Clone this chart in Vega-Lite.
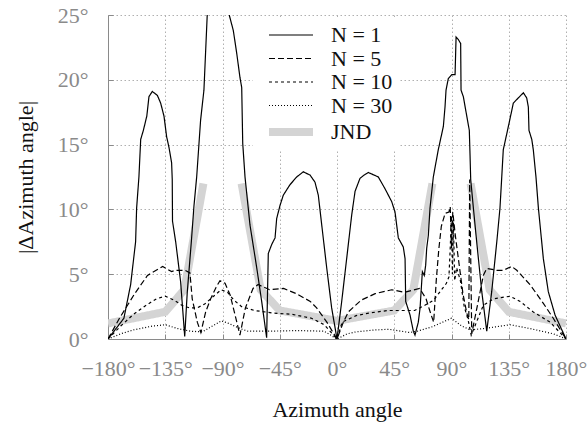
{
  "$schema": "https://vega.github.io/schema/vega-lite/v6.json",
  "width": 458,
  "height": 324,
  "autosize": "none",
  "padding": {"left": 108, "top": 15, "right": 22, "bottom": 87},
  "background": "white",
  "config": {
    "font": "Liberation Serif",
    "view": {"stroke": null},
    "axis": {
      "labelFont": "Liberation Serif",
      "labelFontSize": 22,
      "labelColor": "#8a8a8a",
      "titleFont": "Liberation Serif",
      "titleFontSize": 22,
      "titleFontWeight": "normal",
      "titleColor": "#111111",
      "domainColor": "#8a8a8a",
      "tickColor": "#8a8a8a",
      "gridColor": "#b0b0b0",
      "gridDash": [1.5, 2.5],
      "gridWidth": 1
    }
  },
  "datasets": {
    "curves": [
      {"s": "JND", "g": "a", "x": -180, "y": 1.2},
      {"s": "JND", "g": "a", "x": -135, "y": 2.1},
      {"s": "JND", "g": "a", "x": -120, "y": 3.8},
      {"s": "JND", "g": "a", "x": -105, "y": 12},
      {"s": "JND", "g": "b", "x": -75, "y": 12},
      {"s": "JND", "g": "b", "x": -60, "y": 3.8},
      {"s": "JND", "g": "b", "x": -45, "y": 2.2},
      {"s": "JND", "g": "b", "x": 0, "y": 1.4},
      {"s": "JND", "g": "b", "x": 45, "y": 2.2},
      {"s": "JND", "g": "b", "x": 60, "y": 3.8},
      {"s": "JND", "g": "b", "x": 75, "y": 12},
      {"s": "JND", "g": "c", "x": 105, "y": 12},
      {"s": "JND", "g": "c", "x": 120, "y": 3.8},
      {"s": "JND", "g": "c", "x": 135, "y": 2.1},
      {"s": "JND", "g": "c", "x": 180, "y": 1.2},

      {"s": "N = 1", "g": "a", "x": -180, "y": 0},
      {"s": "N = 1", "g": "a", "x": -167.5, "y": 1.6},
      {"s": "N = 1", "g": "a", "x": -162.2, "y": 4.2},
      {"s": "N = 1", "g": "a", "x": -158.3, "y": 7.5},
      {"s": "N = 1", "g": "a", "x": -157.5, "y": 10.1},
      {"s": "N = 1", "g": "a", "x": -155.7, "y": 12.5},
      {"s": "N = 1", "g": "a", "x": -154.3, "y": 15.4},
      {"s": "N = 1", "g": "a", "x": -152.2, "y": 16.1},
      {"s": "N = 1", "g": "a", "x": -149.5, "y": 17.2},
      {"s": "N = 1", "g": "a", "x": -147.8, "y": 18.7},
      {"s": "N = 1", "g": "a", "x": -145.2, "y": 19.1},
      {"s": "N = 1", "g": "a", "x": -141.2, "y": 18.8},
      {"s": "N = 1", "g": "a", "x": -138.6, "y": 18.2},
      {"s": "N = 1", "g": "a", "x": -136, "y": 17.2},
      {"s": "N = 1", "g": "a", "x": -133.9, "y": 15.6},
      {"s": "N = 1", "g": "a", "x": -132.1, "y": 14.8},
      {"s": "N = 1", "g": "a", "x": -130, "y": 13.6},
      {"s": "N = 1", "g": "a", "x": -129.5, "y": 12.3},
      {"s": "N = 1", "g": "a", "x": -129.3, "y": 9.1},
      {"s": "N = 1", "g": "a", "x": -126.8, "y": 7.5},
      {"s": "N = 1", "g": "a", "x": -122.9, "y": 4.4},
      {"s": "N = 1", "g": "a", "x": -119.7, "y": 0.2},
      {"s": "N = 1", "g": "a", "x": -117.7, "y": 3.6},
      {"s": "N = 1", "g": "a", "x": -114.5, "y": 7.5},
      {"s": "N = 1", "g": "a", "x": -112.4, "y": 10.3},
      {"s": "N = 1", "g": "a", "x": -110.3, "y": 12.5},
      {"s": "N = 1", "g": "a", "x": -107.2, "y": 16.9},
      {"s": "N = 1", "g": "a", "x": -104.6, "y": 19.2},
      {"s": "N = 1", "g": "a", "x": -102, "y": 25},
      {"s": "N = 1", "g": "a", "x": -99, "y": 30},
      {"s": "N = 1", "g": "a", "x": -88, "y": 30},
      {"s": "N = 1", "g": "a", "x": -84.7, "y": 25},
      {"s": "N = 1", "g": "a", "x": -81.5, "y": 23.8},
      {"s": "N = 1", "g": "a", "x": -78.9, "y": 22.1},
      {"s": "N = 1", "g": "a", "x": -76.3, "y": 20.2},
      {"s": "N = 1", "g": "a", "x": -74.9, "y": 19.4},
      {"s": "N = 1", "g": "a", "x": -74.1, "y": 15.1},
      {"s": "N = 1", "g": "a", "x": -72.3, "y": 12.5},
      {"s": "N = 1", "g": "a", "x": -68.4, "y": 8.8},
      {"s": "N = 1", "g": "a", "x": -63.1, "y": 5.5},
      {"s": "N = 1", "g": "a", "x": -59.2, "y": 2.9},
      {"s": "N = 1", "g": "a", "x": -55.3, "y": 0.1},
      {"s": "N = 1", "g": "a", "x": -54, "y": 6.6},
      {"s": "N = 1", "g": "a", "x": -51.3, "y": 7.3},
      {"s": "N = 1", "g": "a", "x": -48.7, "y": 7.8},
      {"s": "N = 1", "g": "a", "x": -47.4, "y": 9.3},
      {"s": "N = 1", "g": "a", "x": -44.8, "y": 10.3},
      {"s": "N = 1", "g": "a", "x": -42.2, "y": 11.1},
      {"s": "N = 1", "g": "a", "x": -37, "y": 11.9},
      {"s": "N = 1", "g": "a", "x": -31.7, "y": 12.5},
      {"s": "N = 1", "g": "a", "x": -26.5, "y": 12.9},
      {"s": "N = 1", "g": "a", "x": -21.2, "y": 12.65},
      {"s": "N = 1", "g": "a", "x": -17.3, "y": 12.1},
      {"s": "N = 1", "g": "a", "x": -14.7, "y": 11.1},
      {"s": "N = 1", "g": "a", "x": -12, "y": 8.8},
      {"s": "N = 1", "g": "a", "x": -8.1, "y": 5.5},
      {"s": "N = 1", "g": "a", "x": -4.2, "y": 2.4},
      {"s": "N = 1", "g": "a", "x": 0, "y": 0},
      {"s": "N = 1", "g": "a", "x": 3.7, "y": 2.9},
      {"s": "N = 1", "g": "a", "x": 7.6, "y": 6.2},
      {"s": "N = 1", "g": "a", "x": 11.6, "y": 9.6},
      {"s": "N = 1", "g": "a", "x": 14.2, "y": 11.4},
      {"s": "N = 1", "g": "a", "x": 18.1, "y": 12.4},
      {"s": "N = 1", "g": "a", "x": 22, "y": 12.7},
      {"s": "N = 1", "g": "a", "x": 24.6, "y": 12.85},
      {"s": "N = 1", "g": "a", "x": 32.5, "y": 12.5},
      {"s": "N = 1", "g": "a", "x": 37.7, "y": 11.6},
      {"s": "N = 1", "g": "a", "x": 43, "y": 10.6},
      {"s": "N = 1", "g": "a", "x": 45.6, "y": 9.8},
      {"s": "N = 1", "g": "a", "x": 48.2, "y": 7.8},
      {"s": "N = 1", "g": "a", "x": 52.1, "y": 7.1},
      {"s": "N = 1", "g": "a", "x": 53.5, "y": 6.2},
      {"s": "N = 1", "g": "a", "x": 54, "y": 2.9},
      {"s": "N = 1", "g": "a", "x": 57.4, "y": 1.85},
      {"s": "N = 1", "g": "a", "x": 60, "y": 0.6},
      {"s": "N = 1", "g": "a", "x": 61.3, "y": 0.3},
      {"s": "N = 1", "g": "a", "x": 63.9, "y": 1.3},
      {"s": "N = 1", "g": "a", "x": 65.3, "y": 2.4},
      {"s": "N = 1", "g": "a", "x": 67.1, "y": 5.2},
      {"s": "N = 1", "g": "a", "x": 68.6, "y": 4.9},
      {"s": "N = 1", "g": "a", "x": 69.7, "y": 5.7},
      {"s": "N = 1", "g": "a", "x": 70.5, "y": 7},
      {"s": "N = 1", "g": "a", "x": 71.8, "y": 8},
      {"s": "N = 1", "g": "a", "x": 73.1, "y": 10.1},
      {"s": "N = 1", "g": "a", "x": 75.7, "y": 12.5},
      {"s": "N = 1", "g": "a", "x": 79.6, "y": 14.6},
      {"s": "N = 1", "g": "a", "x": 83.6, "y": 16.4},
      {"s": "N = 1", "g": "a", "x": 84.9, "y": 17.9},
      {"s": "N = 1", "g": "a", "x": 85.7, "y": 19.2},
      {"s": "N = 1", "g": "a", "x": 87.5, "y": 20.1},
      {"s": "N = 1", "g": "a", "x": 90.2, "y": 20.4},
      {"s": "N = 1", "g": "a", "x": 92.8, "y": 20.4},
      {"s": "N = 1", "g": "a", "x": 93.6, "y": 23.3},
      {"s": "N = 1", "g": "a", "x": 95.4, "y": 23.1},
      {"s": "N = 1", "g": "a", "x": 97.2, "y": 22.8},
      {"s": "N = 1", "g": "a", "x": 97.5, "y": 19.2},
      {"s": "N = 1", "g": "a", "x": 99.3, "y": 18.7},
      {"s": "N = 1", "g": "a", "x": 102, "y": 17.2},
      {"s": "N = 1", "g": "a", "x": 104, "y": 16.1},
      {"s": "N = 1", "g": "a", "x": 104.6, "y": 14.1},
      {"s": "N = 1", "g": "a", "x": 105.1, "y": 12.3},
      {"s": "N = 1", "g": "a", "x": 107.2, "y": 10.1},
      {"s": "N = 1", "g": "a", "x": 109.8, "y": 7.5},
      {"s": "N = 1", "g": "a", "x": 113.8, "y": 3.65},
      {"s": "N = 1", "g": "a", "x": 117.7, "y": 0.6},
      {"s": "N = 1", "g": "a", "x": 121.6, "y": 3.65},
      {"s": "N = 1", "g": "a", "x": 125.6, "y": 7.5},
      {"s": "N = 1", "g": "a", "x": 128.1, "y": 10.1},
      {"s": "N = 1", "g": "a", "x": 129.5, "y": 12.5},
      {"s": "N = 1", "g": "a", "x": 130.7, "y": 14.6},
      {"s": "N = 1", "g": "a", "x": 134.7, "y": 16.4},
      {"s": "N = 1", "g": "a", "x": 138.6, "y": 18.2},
      {"s": "N = 1", "g": "a", "x": 142.5, "y": 18.6},
      {"s": "N = 1", "g": "a", "x": 146.5, "y": 19.0},
      {"s": "N = 1", "g": "a", "x": 149.1, "y": 18.6},
      {"s": "N = 1", "g": "a", "x": 150.4, "y": 17.9},
      {"s": "N = 1", "g": "a", "x": 150.9, "y": 16.1},
      {"s": "N = 1", "g": "a", "x": 153.1, "y": 15.4},
      {"s": "N = 1", "g": "a", "x": 154.3, "y": 14.6},
      {"s": "N = 1", "g": "a", "x": 156.4, "y": 12.5},
      {"s": "N = 1", "g": "a", "x": 158.3, "y": 10.1},
      {"s": "N = 1", "g": "a", "x": 162.2, "y": 6.2},
      {"s": "N = 1", "g": "a", "x": 166.1, "y": 3.65},
      {"s": "N = 1", "g": "a", "x": 171.4, "y": 1.85},
      {"s": "N = 1", "g": "a", "x": 180, "y": 0},

      {"s": "N = 5", "g": "a", "x": -180, "y": 0},
      {"s": "N = 5", "g": "a", "x": -171, "y": 1.6},
      {"s": "N = 5", "g": "a", "x": -159, "y": 3.5},
      {"s": "N = 5", "g": "a", "x": -149, "y": 4.9},
      {"s": "N = 5", "g": "a", "x": -137, "y": 5.6},
      {"s": "N = 5", "g": "a", "x": -130, "y": 5.2},
      {"s": "N = 5", "g": "a", "x": -127, "y": 5.3},
      {"s": "N = 5", "g": "a", "x": -119.5, "y": 5.3},
      {"s": "N = 5", "g": "a", "x": -115.6, "y": 5.1},
      {"s": "N = 5", "g": "a", "x": -113.8, "y": 3.1},
      {"s": "N = 5", "g": "a", "x": -109.8, "y": 1.3},
      {"s": "N = 5", "g": "a", "x": -107, "y": 0.5},
      {"s": "N = 5", "g": "a", "x": -103.2, "y": 2.1},
      {"s": "N = 5", "g": "a", "x": -99.3, "y": 3.1},
      {"s": "N = 5", "g": "a", "x": -95, "y": 4.0},
      {"s": "N = 5", "g": "a", "x": -92, "y": 4.5},
      {"s": "N = 5", "g": "a", "x": -88, "y": 4.3},
      {"s": "N = 5", "g": "a", "x": -84, "y": 3.4},
      {"s": "N = 5", "g": "a", "x": -80, "y": 1.8},
      {"s": "N = 5", "g": "a", "x": -76.3, "y": 0.3},
      {"s": "N = 5", "g": "a", "x": -72, "y": 2.4},
      {"s": "N = 5", "g": "a", "x": -66, "y": 3.9},
      {"s": "N = 5", "g": "a", "x": -62, "y": 4.2},
      {"s": "N = 5", "g": "a", "x": -53, "y": 3.8},
      {"s": "N = 5", "g": "a", "x": -42, "y": 3.9},
      {"s": "N = 5", "g": "a", "x": -32, "y": 3.5},
      {"s": "N = 5", "g": "a", "x": -21, "y": 2.9},
      {"s": "N = 5", "g": "a", "x": -16, "y": 2.4},
      {"s": "N = 5", "g": "a", "x": -8, "y": 1.3},
      {"s": "N = 5", "g": "a", "x": 0, "y": 0},
      {"s": "N = 5", "g": "a", "x": 5, "y": 1.3},
      {"s": "N = 5", "g": "a", "x": 9, "y": 2.1},
      {"s": "N = 5", "g": "a", "x": 19, "y": 3.0},
      {"s": "N = 5", "g": "a", "x": 30, "y": 3.5},
      {"s": "N = 5", "g": "a", "x": 43, "y": 3.8},
      {"s": "N = 5", "g": "a", "x": 53, "y": 3.6},
      {"s": "N = 5", "g": "a", "x": 65, "y": 3.9},
      {"s": "N = 5", "g": "a", "x": 70, "y": 3.1},
      {"s": "N = 5", "g": "a", "x": 74, "y": 1.85},
      {"s": "N = 5", "g": "a", "x": 76, "y": 1.3},
      {"s": "N = 5", "g": "a", "x": 78, "y": 4.5},
      {"s": "N = 5", "g": "a", "x": 80, "y": 6.9},
      {"s": "N = 5", "g": "a", "x": 82, "y": 8.7},
      {"s": "N = 5", "g": "a", "x": 85, "y": 9.7},
      {"s": "N = 5", "g": "a", "x": 88, "y": 9.8},
      {"s": "N = 5", "g": "a", "x": 89, "y": 10.2},
      {"s": "N = 5", "g": "a", "x": 90, "y": 7.0},
      {"s": "N = 5", "g": "a", "x": 91, "y": 9.8},
      {"s": "N = 5", "g": "a", "x": 93, "y": 8.0},
      {"s": "N = 5", "g": "a", "x": 95, "y": 6.5},
      {"s": "N = 5", "g": "a", "x": 97, "y": 5.0},
      {"s": "N = 5", "g": "a", "x": 99, "y": 3.5},
      {"s": "N = 5", "g": "a", "x": 102, "y": 2.0},
      {"s": "N = 5", "g": "a", "x": 103.6, "y": 1.5},
      {"s": "N = 5", "g": "a", "x": 104.3, "y": 12.3},
      {"s": "N = 5", "g": "a", "x": 105.9, "y": 0.4},
      {"s": "N = 5", "g": "a", "x": 111, "y": 2.9},
      {"s": "N = 5", "g": "a", "x": 115, "y": 4.9},
      {"s": "N = 5", "g": "a", "x": 117.7, "y": 5.45},
      {"s": "N = 5", "g": "a", "x": 125.6, "y": 5.3},
      {"s": "N = 5", "g": "a", "x": 130.7, "y": 5.3},
      {"s": "N = 5", "g": "a", "x": 137.3, "y": 5.6},
      {"s": "N = 5", "g": "a", "x": 141.3, "y": 5.3},
      {"s": "N = 5", "g": "a", "x": 151.7, "y": 4.2},
      {"s": "N = 5", "g": "a", "x": 162.2, "y": 2.75},
      {"s": "N = 5", "g": "a", "x": 170, "y": 1.6},
      {"s": "N = 5", "g": "a", "x": 180, "y": 0},

      {"s": "N = 10", "g": "a", "x": -180, "y": 0},
      {"s": "N = 10", "g": "a", "x": -170, "y": 1.0},
      {"s": "N = 10", "g": "a", "x": -160, "y": 1.9},
      {"s": "N = 10", "g": "a", "x": -150, "y": 2.6},
      {"s": "N = 10", "g": "a", "x": -142, "y": 3.1},
      {"s": "N = 10", "g": "a", "x": -135, "y": 3.3},
      {"s": "N = 10", "g": "a", "x": -128, "y": 3.0},
      {"s": "N = 10", "g": "a", "x": -122, "y": 2.6},
      {"s": "N = 10", "g": "a", "x": -116, "y": 2.4},
      {"s": "N = 10", "g": "a", "x": -110, "y": 2.4},
      {"s": "N = 10", "g": "a", "x": -104, "y": 2.7},
      {"s": "N = 10", "g": "a", "x": -97, "y": 3.3},
      {"s": "N = 10", "g": "a", "x": -91, "y": 3.8},
      {"s": "N = 10", "g": "a", "x": -86, "y": 3.6},
      {"s": "N = 10", "g": "a", "x": -81, "y": 3.0},
      {"s": "N = 10", "g": "a", "x": -75, "y": 2.5},
      {"s": "N = 10", "g": "a", "x": -65, "y": 2.2},
      {"s": "N = 10", "g": "a", "x": -50, "y": 2.0},
      {"s": "N = 10", "g": "a", "x": -35, "y": 1.9},
      {"s": "N = 10", "g": "a", "x": -20, "y": 1.6},
      {"s": "N = 10", "g": "a", "x": -10, "y": 1.1},
      {"s": "N = 10", "g": "a", "x": 0, "y": 0},
      {"s": "N = 10", "g": "a", "x": 4, "y": 1.3},
      {"s": "N = 10", "g": "a", "x": 15, "y": 1.8},
      {"s": "N = 10", "g": "a", "x": 25, "y": 2.0},
      {"s": "N = 10", "g": "a", "x": 40, "y": 2.2},
      {"s": "N = 10", "g": "a", "x": 61, "y": 2.2},
      {"s": "N = 10", "g": "a", "x": 69, "y": 2.6},
      {"s": "N = 10", "g": "a", "x": 76, "y": 3.0},
      {"s": "N = 10", "g": "a", "x": 86, "y": 4.3},
      {"s": "N = 10", "g": "a", "x": 88, "y": 4.8},
      {"s": "N = 10", "g": "a", "x": 89, "y": 7.0},
      {"s": "N = 10", "g": "a", "x": 90, "y": 9.5},
      {"s": "N = 10", "g": "a", "x": 90.7, "y": 5.0},
      {"s": "N = 10", "g": "a", "x": 91.5, "y": 9.0},
      {"s": "N = 10", "g": "a", "x": 92.5, "y": 4.5},
      {"s": "N = 10", "g": "a", "x": 94, "y": 5.5},
      {"s": "N = 10", "g": "a", "x": 97, "y": 4.5},
      {"s": "N = 10", "g": "a", "x": 100, "y": 2.5},
      {"s": "N = 10", "g": "a", "x": 103, "y": 1.5},
      {"s": "N = 10", "g": "a", "x": 105.5, "y": 0.3},
      {"s": "N = 10", "g": "a", "x": 115, "y": 2.6},
      {"s": "N = 10", "g": "a", "x": 123, "y": 3.1},
      {"s": "N = 10", "g": "a", "x": 136, "y": 3.3},
      {"s": "N = 10", "g": "a", "x": 144, "y": 2.9},
      {"s": "N = 10", "g": "a", "x": 154, "y": 2.1},
      {"s": "N = 10", "g": "a", "x": 167.5, "y": 1.3},
      {"s": "N = 10", "g": "a", "x": 180, "y": 0},

      {"s": "N = 30", "g": "a", "x": -180, "y": 0},
      {"s": "N = 30", "g": "a", "x": -170, "y": 0.4},
      {"s": "N = 30", "g": "a", "x": -160, "y": 0.7},
      {"s": "N = 30", "g": "a", "x": -145, "y": 1.0},
      {"s": "N = 30", "g": "a", "x": -135, "y": 1.1},
      {"s": "N = 30", "g": "a", "x": -125, "y": 0.8},
      {"s": "N = 30", "g": "a", "x": -115, "y": 0.6},
      {"s": "N = 30", "g": "a", "x": -106, "y": 0.55},
      {"s": "N = 30", "g": "a", "x": -98, "y": 1.0},
      {"s": "N = 30", "g": "a", "x": -91, "y": 1.4},
      {"s": "N = 30", "g": "a", "x": -85, "y": 1.2},
      {"s": "N = 30", "g": "a", "x": -76, "y": 0.8},
      {"s": "N = 30", "g": "a", "x": -70, "y": 0.6},
      {"s": "N = 30", "g": "a", "x": -55, "y": 0.6},
      {"s": "N = 30", "g": "a", "x": -30, "y": 0.65},
      {"s": "N = 30", "g": "a", "x": -10, "y": 0.6},
      {"s": "N = 30", "g": "a", "x": -5, "y": 0.3},
      {"s": "N = 30", "g": "a", "x": 0, "y": 0},
      {"s": "N = 30", "g": "a", "x": 8, "y": 0.4},
      {"s": "N = 30", "g": "a", "x": 15, "y": 0.55},
      {"s": "N = 30", "g": "a", "x": 30, "y": 0.7},
      {"s": "N = 30", "g": "a", "x": 41, "y": 0.75},
      {"s": "N = 30", "g": "a", "x": 57, "y": 0.5},
      {"s": "N = 30", "g": "a", "x": 63, "y": 0.6},
      {"s": "N = 30", "g": "a", "x": 75, "y": 0.95},
      {"s": "N = 30", "g": "a", "x": 90, "y": 1.6},
      {"s": "N = 30", "g": "a", "x": 98, "y": 1.0},
      {"s": "N = 30", "g": "a", "x": 105, "y": 0.7},
      {"s": "N = 30", "g": "a", "x": 115, "y": 0.8},
      {"s": "N = 30", "g": "a", "x": 136, "y": 1.1},
      {"s": "N = 30", "g": "a", "x": 152, "y": 0.8},
      {"s": "N = 30", "g": "a", "x": 170, "y": 0.4},
      {"s": "N = 30", "g": "a", "x": 180, "y": 0}
    ]
  },
  "data": {"name": "curves"},
  "encoding": {
    "x": {
      "field": "x",
      "type": "quantitative",
      "title": "Azimuth angle",
      "scale": {"domain": [-180, 180], "nice": false, "zero": false},
      "axis": {
        "values": [-180, -135, -90, -45, 0, 45, 90, 135, 180],
        "format": "d",
        "labelExpr": "datum.label + '°'",
        "labelPadding": 24,
        "tickSize": -5,
        "titlePadding": 20,
        "labelFlush": false,
        "labelOverlap": false
      }
    },
    "y": {
      "field": "y",
      "type": "quantitative",
      "title": "|ΔAzimuth angle|",
      "scale": {"domain": [0, 25], "nice": false},
      "axis": {
        "values": [0, 5, 10, 15, 20, 25],
        "labelExpr": "datum.label + '°'",
        "labelPadding": 25,
        "tickSize": -5,
        "titlePadding": 20
      }
    },
    "detail": {"field": "g"},
    "color": {
      "field": "s",
      "type": "nominal",
      "scale": {
        "domain": ["N = 1", "N = 5", "N = 10", "N = 30", "JND"],
        "range": ["#000000", "#000000", "#000000", "#000000", "#d4d4d4"]
      },
      "legend": {
        "title": null,
        "orient": "none",
        "legendX": 145,
        "legendY": 3,
        "padding": 6,
        "fillColor": "white",
        "symbolType": "M-2.2,0H2.2",
        "symbolSize": 400,
        "symbolStrokeWidth": 1.2,
        "symbolOffset": 18,
        "labelFont": "Liberation Serif",
        "labelFontSize": 22,
        "labelColor": "#111111",
        "labelOffset": 26,
        "rowPadding": 1.5,
        "encode": {
          "symbols": {
            "update": {
              "strokeWidth": {"signal": "datum.value === 'JND' ? 8 : 1.2"},
              "strokeJoin": {"value": "bevel"},
              "strokeCap": {"value": "butt"}
            }
          }
        }
      }
    },
    "strokeDash": {
      "field": "s",
      "type": "nominal",
      "scale": {
        "domain": ["N = 1", "N = 5", "N = 10", "N = 30", "JND"],
        "range": [[1, 0], [6, 3], [3, 3], [1, 2], [1, 0]]
      }
    },
    "strokeWidth": {
      "field": "s",
      "type": "nominal",
      "legend": null,
      "scale": {
        "type": "ordinal",
        "domain": ["N = 1", "N = 5", "N = 10", "N = 30", "JND"],
        "range": [1.2, 1.2, 1.2, 1.2, 8]
      }
    }
  },
  "layer": [
    {
      "transform": [{"filter": "datum.s === 'JND'"}],
      "mark": {"type": "line", "clip": true, "strokeCap": "butt"}
    },
    {
      "transform": [{"filter": "datum.s !== 'JND'"}],
      "mark": {"type": "line", "clip": true}
    }
  ]
}
